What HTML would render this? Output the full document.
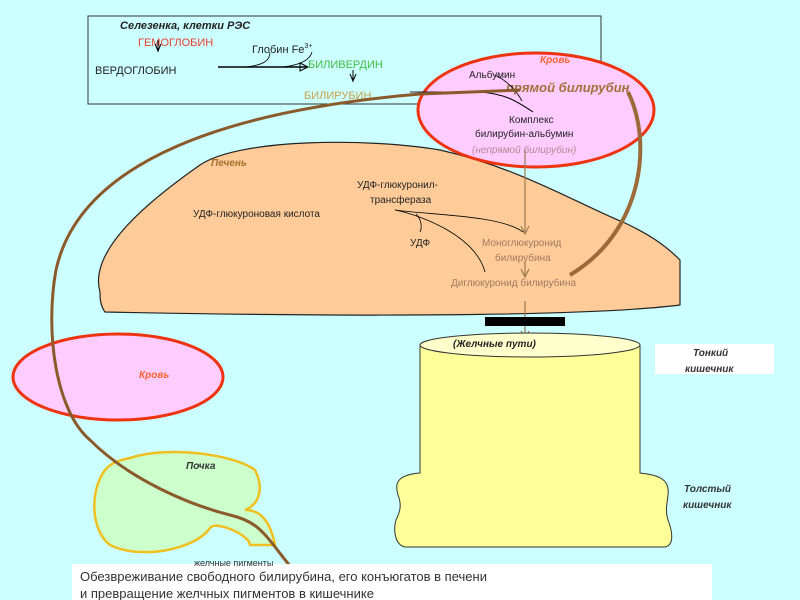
<!DOCTYPE html>
<html><head><meta charset="utf-8"><style>
html,body{margin:0;padding:0;background:#ccffff;}
svg{display:block;font-family:"Liberation Sans",sans-serif;}
</style></head><body>
<svg width="800" height="600" viewBox="0 0 800 600" xmlns="http://www.w3.org/2000/svg">
<rect width="800" height="600" fill="#ccffff"/>
<!-- RES box -->
<rect x="88" y="16" width="513" height="88" fill="none" stroke="#333" stroke-width="1"/>
<text x="120" y="29" font-size="11" font-weight="bold" font-style="italic" fill="#222">Селезенка, клетки РЭС</text>
<text x="138" y="46" font-size="11" fill="#e84030">ГЕМОГЛОБИН</text>
<line x1="158" y1="40" x2="158" y2="52" stroke="#000"/>
<path d="M155,44 L158,51 L161,44" fill="none" stroke="#000"/>
<text x="95" y="74" font-size="11" fill="#222">ВЕРДОГЛОБИН</text>
<line x1="218" y1="67" x2="307" y2="67" stroke="#000" stroke-width="1.5"/>
<path d="M300,63 L308,67 L300,71 Z" fill="none" stroke="#000"/>
<path d="M245,67 C265,65 270,60 270,52" fill="none" stroke="#000" stroke-width="0.8"/>
<path d="M283,67 C300,65 310,60 312,52" fill="none" stroke="#000" stroke-width="0.8"/>
<text x="252" y="53" font-size="11" fill="#222">Глобин  Fe<tspan font-size="7" dy="-5">3+</tspan></text>
<text x="308" y="68" font-size="11" fill="#44bb44">БИЛИВЕРДИН</text>
<line x1="353" y1="70" x2="353" y2="82" stroke="#000"/>
<path d="M350,74 L353,81 L356,74" fill="none" stroke="#000"/>
<text x="304" y="99" font-size="11" fill="#c8a050">БИЛИРУБИН</text>
<!-- liver -->
<path d="M100,292 C88,250 150,200 200,165 C240,138 370,138 440,150 C520,168 580,205 625,223 C650,235 665,245 680,260 L680,305 C600,315 400,318 105,312 C100,305 100,298 100,292 Z" fill="#ffcc99" stroke="#222" stroke-width="1.2"/>
<text x="211" y="166" font-size="10" font-weight="bold" font-style="italic" fill="#a07030">Печень</text>
<text x="357" y="188" font-size="10" fill="#222">УДФ-глюкуронил-</text>
<text x="370" y="203" font-size="10" fill="#222">трансфераза</text>
<text x="193" y="217" font-size="10" fill="#222">УДФ-глюкуроновая кислота</text>
<text x="410" y="246" font-size="10" fill="#222">УДФ</text>
<path d="M395,210 C430,215 500,215 523,232" fill="none" stroke="#000" stroke-width="0.8"/>
<path d="M395,210 C420,215 475,235 485,272" fill="none" stroke="#000" stroke-width="0.8"/>
<path d="M416,214 C422,220 422,228 420,232" fill="none" stroke="#000" stroke-width="0.8"/>
<text x="482" y="246" font-size="10" fill="#a07860">Моноглюкуронид</text>
<text x="495" y="261" font-size="10" fill="#a07860">билирубина</text>
<text x="451" y="286" font-size="10" fill="#a07860">Диглюкуронид билирубина</text>
<!-- blood top -->
<ellipse cx="536" cy="110" rx="118" ry="57" fill="#ffccff" stroke="#ee3311" stroke-width="3"/>
<text x="540" y="63" font-size="10" font-weight="bold" font-style="italic" fill="#ff6633">Кровь</text>
<text x="469" y="78" font-size="10" fill="#222">Альбумин</text>
<text x="506" y="92" font-size="13" font-weight="bold" font-style="italic" fill="#a0703a">прямой билирубин</text>
<text x="509" y="123" font-size="10" fill="#222">Комплекс</text>
<text x="475" y="137" font-size="10" fill="#222">билирубин-альбумин</text>
<text x="472" y="153" font-size="10" font-style="italic" fill="#b08890">(непрямой билирубин)</text>
<line x1="410" y1="92" x2="480" y2="92" stroke="#223" stroke-width="1"/>
<path d="M480,92 C505,94 515,100 533,112" fill="none" stroke="#000" stroke-width="1"/>
<path d="M495,75 C505,80 515,88 522,101" fill="none" stroke="#000" stroke-width="0.8"/>
<!-- vertical brown arrows -->
<g stroke="#9b7a50" stroke-width="1.2" fill="none">
<line x1="525" y1="150" x2="525" y2="233"/>
<path d="M521,226 L525,234 L529,226"/>
<line x1="525" y1="262" x2="525" y2="276"/>
<path d="M521,269 L525,277 L529,269"/>
<line x1="525" y1="301" x2="525" y2="338"/>
<path d="M521,331 L525,339 L529,331"/>
</g>
<rect x="485" y="317" width="80" height="9" fill="#000"/>
<!-- intestine -->
<path d="M420,346 L420,473 C395,475 395,485 398,495 C402,505 400,512 396,520 C393,530 395,545 405,547 L665,547 C675,545 672,530 668,520 C665,510 667,505 668,495 C670,480 660,475 640,473 L640,346 Z" fill="#ffff99" stroke="#333" stroke-width="1"/>
<ellipse cx="530" cy="345" rx="110" ry="12" fill="#ffffcc" stroke="#333" stroke-width="1"/>
<text x="453" y="347" font-size="10" font-weight="bold" font-style="italic" fill="#222">(Желчные пути)</text>
<rect x="655" y="344" width="119" height="30" fill="#fff"/>
<text x="693" y="356" font-size="10" font-weight="bold" font-style="italic" fill="#333">Тонкий</text>
<text x="685" y="372" font-size="10" font-weight="bold" font-style="italic" fill="#333">кишечник</text>
<text x="684" y="492" font-size="10" font-weight="bold" font-style="italic" fill="#333">Толстый</text>
<text x="683" y="508" font-size="10" font-weight="bold" font-style="italic" fill="#333">кишечник</text>
<!-- left blood -->
<ellipse cx="118" cy="377" rx="105" ry="43" fill="#ffccff" stroke="#ee3311" stroke-width="3"/>
<text x="139" y="378" font-size="10" font-weight="bold" font-style="italic" fill="#ff6633">Кровь</text>
<!-- kidney -->
<path d="M130,458 C170,445 235,455 255,470 C265,490 258,505 245,510 C260,510 270,520 275,545 L250,545 C250,535 215,520 210,528 C195,550 140,560 110,545 C90,530 90,490 105,470 C112,462 120,460 130,458 Z" fill="#ccffcc" stroke="#f0c020" stroke-width="2.5"/>
<text x="186" y="469" font-size="10" font-weight="bold" font-style="italic" fill="#333">Почка</text>
<!-- brown curves -->
<path d="M628,92 C652,140 645,230 570,275" fill="none" stroke="#9b6a38" stroke-width="4"/>
<path d="M520,90 L420,94 C230,110 80,160 56,270 C45,330 55,410 90,440 C130,480 190,505 230,515 C260,522 265,535 290,566" fill="none" stroke="#8b5a2b" stroke-width="3"/>
<!-- caption -->
<rect x="72" y="564" width="640" height="36" fill="#fff"/>
<text x="194" y="566" font-size="9" fill="#333">желчные пигменты</text>
<text x="80" y="581" font-size="13" fill="#333">Обезвреживание свободного билирубина, его конъюгатов в печени</text>
<text x="80" y="598" font-size="13" fill="#333"> и превращение желчных пигментов в кишечнике</text>
</svg>
</body></html>
